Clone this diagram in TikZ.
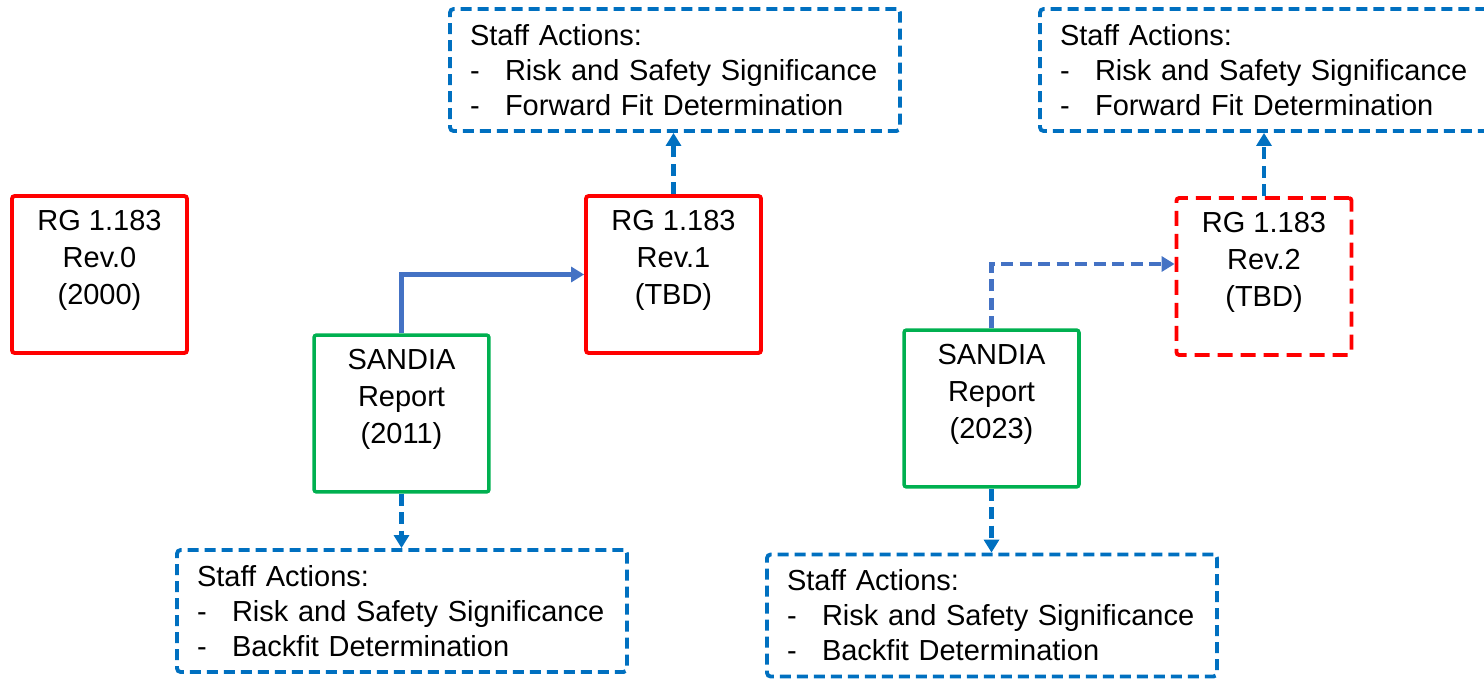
\documentclass[tikz,border=0pt]{standalone}
\usepackage{fontspec}
\setmainfont{Liberation Sans}
\usetikzlibrary{arrows.meta,positioning}
\definecolor{rgred}{HTML}{FF0000}
\definecolor{sandgreen}{HTML}{00B050}
\definecolor{staffblue}{HTML}{0070C0}
\definecolor{linkblue}{HTML}{4472C4}
\newcommand{\boxlines}[1]{\raisebox{0.28cm}[\height][\depth]{\begin{tabular}{@{}c@{}}#1\end{tabular}}}
\newcommand{\staffitem}[1]{\makebox[0.7cm][l]{-}#1}
\tikzset{
  box/.style={draw, line width=2.2pt, rounded corners=1.5pt, minimum width=3.5cm, minimum height=3.14cm, inner sep=0pt, font=\fontsize{16.5}{21}\selectfont},
  guide/.style={box, draw=rgred},
  draftguide/.style={guide, dash pattern=on 0.3cm off 0.16cm},
  report/.style={box, draw=sandgreen, line width=2pt},
  actions/.style={draw=staffblue, line width=2.2pt, dash pattern=on 0.22cm off 0.12cm, rounded corners=2pt, minimum width=9cm, minimum height=2.44cm, text width=8.2cm, inner xsep=0.4cm, align=left, font=\fontsize{16.5}{19.9}\selectfont},
  feed/.style={draw=linkblue, line width=2.4pt, -{Triangle[length=0.26cm,width=0.3cm]}},
  draftfeed/.style={feed, dash pattern=on 0.24cm off 0.13cm},
  actfeed/.style={feed, draw=staffblue, dash pattern=on 0.24cm off 0.13cm}
}

\begin{document}
\begin{tikzpicture}[x=0.02cm, y=-0.02cm]
\useasboundingbox (0,0) rectangle (1484,682);

\node[guide] (rev0) at (99.5,274.5) {\boxlines{RG 1.183\\Rev.0\\(2000)}};
\node[guide] (rev1) at (673.5,274.5) {\boxlines{RG 1.183\\Rev.1\\(TBD)}};
\node[draftguide] (rev2) at (1264,276.5) {\boxlines{RG 1.183\\Rev.2\\(TBD)}};

\node[report] (sandia1) at (401.5,413.5) {\boxlines{SANDIA\\Report\\(2011)}};
\node[report] (sandia2) at (991.5,408.5) {\boxlines{SANDIA\\Report\\(2023)}};

\node[actions] (stafftop1) at (675,70)
  {Staff Actions:\\\staffitem{Risk and Safety Significance}\\\staffitem{Forward Fit Determination}};
\node[actions] (stafftop2) at (1265,70)
  {Staff Actions:\\\staffitem{Risk and Safety Significance}\\\staffitem{Forward Fit Determination}};
\node[actions] (staffbot1) at (402,611)
  {Staff Actions:\\\staffitem{Risk and Safety Significance}\\\staffitem{Backfit Determination}};
\node[actions] (staffbot2) at (992,615.5)
  {Staff Actions:\\\staffitem{Risk and Safety Significance}\\\staffitem{Backfit Determination}};

% reports feed the next revision
\draw[feed] (sandia1.north) |- (rev1.west);
\draw[draftfeed] (sandia2.north) |- ([yshift=0.25cm]rev2.west);

% staff actions
\draw[actfeed] (rev1.north) -- (rev1.north |- stafftop1.south);
\draw[actfeed] (rev2.north) -- (rev2.north |- stafftop2.south);
\draw[actfeed] (sandia1.south) -- (sandia1.south |- staffbot1.north);
\draw[actfeed] (sandia2.south) -- (sandia2.south |- staffbot2.north);
\end{tikzpicture}
\end{document}
